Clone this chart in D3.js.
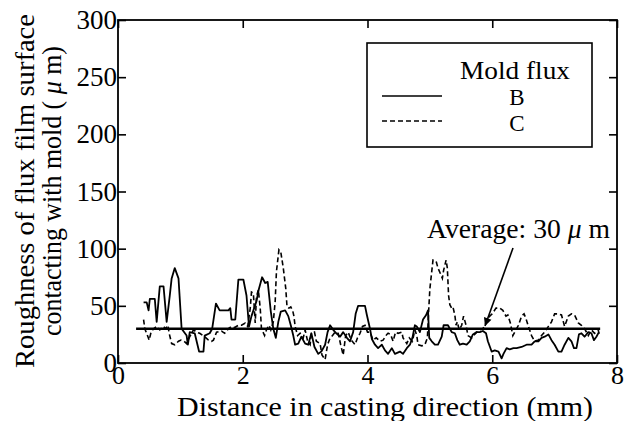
<!DOCTYPE html>
<html><head><meta charset="utf-8">
<script src="https://cdn.jsdelivr.net/npm/d3@7"></script>
<style>
html,body{margin:0;padding:0;background:#fff;}
svg text{font-family:"Liberation Serif","Times New Roman",serif;fill:#000;}
</style></head>
<body>
<svg id="chart" width="627" height="421"></svg>
<script>
// ---- data ----
const xTicks = [0, 2, 4, 6, 8];
const yTicks = [0, 50, 100, 150, 200, 250, 300];
const seriesNames = ["B", "C"];
const legendTitle = "Mold flux";
const averageValue = 30;
const averageRange = [0.29, 7.73];

const bX = [0.41,0.46,0.49,0.51,0.59,0.62,0.67,0.73,0.78,0.83,0.86,0.91,0.97,1.02,1.10,1.12,1.15,1.23,1.30,1.37,1.39,1.47,1.51,1.57,1.61,1.63,1.77,1.80,1.82,1.88,1.89,1.93,2.01,2.06,2.10,2.14,2.22,2.26,2.31,2.36,2.40,2.45,2.49,2.53,2.57,2.61,2.68,2.73,2.77,2.81,2.84,2.89,2.94,3.00,3.05,3.10,3.15,3.21,3.26,3.32,3.36,3.40,3.45,3.50,3.56,3.61,3.67,3.72,3.77,3.81,3.85,3.96,3.99,4.04,4.07,4.12,4.17,4.23,4.28,4.33,4.39,4.44,4.52,4.57,4.63,4.68,4.72,4.76,4.79,4.84,4.89,4.94,4.97,4.99,5.03,5.08,5.13,5.19,5.22,5.29,5.35,5.40,5.44,5.48,5.53,5.59,5.64,5.69,5.75,5.80,5.85,5.90,5.93,5.99,6.04,6.10,6.15,6.18,6.23,6.28,6.34,6.39,6.47,6.55,6.63,6.68,6.74,6.79,6.84,6.90,6.95,7.00,7.06,7.11,7.16,7.22,7.27,7.31,7.35,7.39,7.43,7.48,7.54,7.59,7.63,7.67,7.71];
const bY = [53,53,46,56,56,36,67,67,36,59,74,83,74,30,24,16,27,26,10,10,24,26,30,52,48,46,46,48,38,38,45,73,73,59,32,41,54,65,75,70,71,45,30,22,36,45,46,41,33,24,16,17,23,17,16,26,14,8,10,16,27,33,29,26,23,27,22,19,27,43,50,50,42,30,21,16,13,16,11,8,13,8,10,8,13,16,22,33,32,27,38,42,46,22,19,16,16,23,33,33,27,26,20,16,17,16,19,25,27,27,28,26,19,10,11,10,4,8,13,12,13,13,14,16,16,19,19,22,23,25,20,16,10,10,16,22,19,13,13,25,26,23,27,26,20,23,27];

const cX = [0.41,0.43,0.48,0.50,0.53,0.57,0.62,0.67,0.73,0.76,0.80,0.82,0.86,0.91,0.97,1.01,1.06,1.10,1.15,1.21,1.26,1.31,1.39,1.45,1.50,1.53,1.58,1.66,1.71,1.77,1.82,1.87,1.93,1.98,2.04,2.08,2.12,2.14,2.17,2.20,2.22,2.25,2.28,2.30,2.35,2.38,2.42,2.45,2.49,2.52,2.54,2.58,2.61,2.65,2.69,2.71,2.74,2.77,2.80,2.82,2.84,2.88,2.92,2.97,3.00,3.04,3.08,3.10,3.15,3.18,3.24,3.27,3.32,3.36,3.40,3.44,3.48,3.53,3.57,3.61,3.65,3.69,3.74,3.80,3.84,3.88,3.92,3.96,4.00,4.04,4.09,4.14,4.20,4.25,4.31,4.33,4.37,4.41,4.45,4.49,4.55,4.57,4.63,4.67,4.72,4.76,4.79,4.81,4.87,4.92,4.96,4.98,5.00,5.03,5.05,5.10,5.13,5.17,5.20,5.22,5.26,5.28,5.30,5.32,5.35,5.37,5.40,5.42,5.44,5.47,5.51,5.54,5.58,5.61,5.67,5.70,5.75,5.80,5.85,5.91,5.96,6.00,6.06,6.12,6.17,6.22,6.25,6.29,6.33,6.38,6.42,6.47,6.51,6.54,6.58,6.63,6.68,6.74,6.79,6.84,6.90,6.95,7.00,7.06,7.11,7.16,7.22,7.27,7.32,7.38,7.43,7.48,7.54,7.59,7.64,7.70,7.72];
const cY = [38,30,23,20,27,30,32,29,32,30,33,26,17,16,19,20,19,17,23,29,27,26,23,20,19,20,27,28,26,30,32,31,33,33,35,32,48,62,61,35,58,64,48,30,24,29,33,29,36,54,80,99,97,83,65,49,48,49,46,41,32,24,26,22,29,19,16,26,27,19,17,7,3,16,22,24,27,26,16,7,24,27,20,16,22,26,32,33,27,27,20,22,19,20,25,26,25,19,27,26,27,22,17,22,19,29,24,16,15,16,22,45,65,80,90,89,83,78,74,81,90,83,59,51,48,49,42,33,36,29,33,41,33,24,22,24,27,29,30,36,41,43,48,48,46,41,42,35,24,29,33,41,43,39,32,24,19,20,24,27,32,36,43,43,42,32,41,43,42,35,33,30,24,29,26,29,23];

// ---- chart ----
const svg = d3.select("#chart");
const x = d3.scaleLinear().domain([0, 8]).range([118, 617]);
const y = d3.scaleLinear().domain([0, 300]).range([363, 20]);
const FS = 26;

function styleAxis(g) {
  g.select(".domain").remove();
  g.selectAll(".tick line").attr("stroke", "#000").attr("stroke-width", 1.6);
  g.selectAll(".tick text").style("font-size", FS + "px").attr("fill", "#000");
}

svg.append("g").attr("transform", `translate(0,${y(0)})`)
  .call(d3.axisBottom(x).tickValues(xTicks).tickSize(-8).tickPadding(3).tickFormat(d3.format("d")))
  .call(styleAxis).attr("font-family", null);
svg.append("g").attr("transform", `translate(0,${y(300)})`)
  .call(d3.axisTop(x).tickValues(xTicks).tickSize(-8).tickFormat(""))
  .call(styleAxis);
svg.append("g").attr("transform", `translate(${x(0)},0)`)
  .call(d3.axisLeft(y).tickValues(yTicks).tickSize(-8).tickPadding(1).tickFormat(d3.format("d")))
  .call(styleAxis).attr("font-family", null)
  .selectAll(".tick text").style("font-size", "27px");
svg.append("g").attr("transform", `translate(${x(8)},0)`)
  .call(d3.axisRight(y).tickValues(yTicks).tickSize(-8).tickFormat(""))
  .call(styleAxis);

// frame
svg.append("rect").attr("x", x(0)).attr("y", y(300))
  .attr("width", x(8) - x(0)).attr("height", y(0) - y(300))
  .attr("fill", "none").attr("stroke", "#000").attr("stroke-width", 1.8);

// series
const line = d3.line().x(d => x(d[0])).y(d => y(d[1]));
const bData = bX.map((v, i) => [v, bY[i]]);
const cData = cX.map((v, i) => [v, cY[i]]);
svg.append("path").datum(cData).attr("d", line)
  .attr("fill", "none").attr("stroke", "#000").attr("stroke-width", 1.6)
  .attr("stroke-dasharray", "5,3");
svg.append("path").datum(bData).attr("d", line)
  .attr("fill", "none").attr("stroke", "#000").attr("stroke-width", 1.8)
  .attr("stroke-linejoin", "round");

// average line
svg.append("line").attr("x1", x(averageRange[0])).attr("x2", x(averageRange[1]))
  .attr("y1", y(averageValue)).attr("y2", y(averageValue))
  .attr("stroke", "#000").attr("stroke-width", 2.6);

// annotation
const ann = svg.append("text").attr("x", 427).attr("y", 238).style("font-size", "27px")
  .attr("textLength", 183).attr("lengthAdjust", "spacingAndGlyphs");
ann.append("tspan").text("Average: " + averageValue + " ");
ann.append("tspan").style("font-style", "italic").text("μ");
ann.append("tspan").text(" m");

// arrow
svg.append("defs").append("marker").attr("id", "ah")
  .attr("viewBox", "0 0 10 10").attr("refX", 10).attr("refY", 5)
  .attr("markerWidth", 10).attr("markerHeight", 8).attr("markerUnits", "userSpaceOnUse")
  .attr("orient", "auto")
  .append("path").attr("d", "M0,0 L10,5 L0,10 Z").attr("fill", "#000");
svg.append("line").attr("x1", 513).attr("y1", 248).attr("x2", 485).attr("y2", 326)
  .attr("stroke", "#000").attr("stroke-width", 1.6).attr("marker-end", "url(#ah)");

// legend
svg.append("rect").attr("x", 367).attr("y", 43).attr("width", 225).attr("height", 104)
  .attr("fill", "#fff").attr("stroke", "#000").attr("stroke-width", 1.6);
svg.append("text").attr("x", 515).attr("y", 79).attr("text-anchor", "middle")
  .style("font-size", "26px").attr("textLength", 110).attr("lengthAdjust", "spacingAndGlyphs")
  .text(legendTitle);
const legY = [96, 121];
seriesNames.forEach((n, i) => {
  svg.append("line").attr("x1", 382).attr("x2", 442).attr("y1", legY[i]).attr("y2", legY[i])
    .attr("stroke", "#000").attr("stroke-width", 1.6)
    .attr("stroke-dasharray", i === 1 ? "5,3" : null);
  svg.append("text").attr("x", 517).attr("y", legY[i] + 9 + i).attr("text-anchor", "middle")
    .style("font-size", "23px").text(n);
});

// axis titles
svg.append("text").attr("x", 385).attr("y", 416).attr("text-anchor", "middle")
  .style("font-size", "27px").attr("textLength", 416).attr("lengthAdjust", "spacingAndGlyphs")
  .text("Distance in casting direction  (mm)");
const yt = svg.append("g").attr("transform", "rotate(-90)");
yt.append("text").attr("x", -191).attr("y", 34).attr("text-anchor", "middle")
  .style("font-size", "28px").attr("textLength", 354).attr("lengthAdjust", "spacingAndGlyphs")
  .text("Roughness of flux film surface");
const yt2 = yt.append("text").attr("x", -191).attr("y", 61).attr("text-anchor", "middle")
  .style("font-size", "28px").attr("textLength", 290).attr("lengthAdjust", "spacingAndGlyphs");
yt2.append("tspan").text("contacting with mold (");
yt2.append("tspan").style("font-style", "italic").text(" μ");
yt2.append("tspan").text(" m)");
</script>
</body></html>
